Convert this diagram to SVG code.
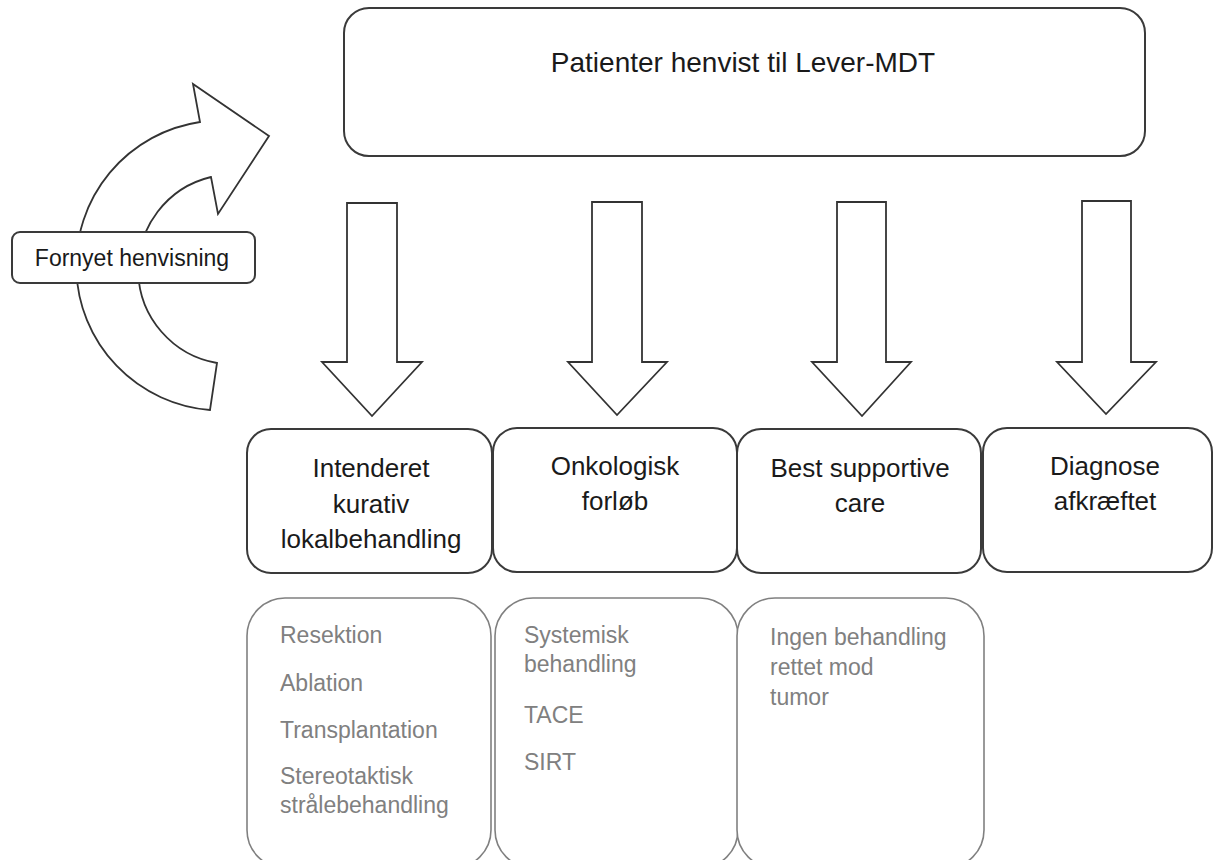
<svg xmlns="http://www.w3.org/2000/svg" width="1214" height="860" viewBox="0 0 1214 860">
<style>
.bg{fill:#fff}
.main{fill:#fff;stroke:#3a3a3a;stroke-width:2}
.sub{fill:#fff;stroke:#808080;stroke-width:1.6}
.arr{fill:#fff;stroke:#333;stroke-width:1.8;stroke-linejoin:miter}
.t{font-family:"Liberation Sans",Arial,sans-serif;fill:#1a1a1a;text-anchor:middle}
.g{font-family:"Liberation Sans",Arial,sans-serif;fill:#808080;font-size:23px}
</style>
<rect class="bg" x="0" y="0" width="1214" height="860"/>

<g id="loop-arrow">
<path class="arr" d="M200,122 A145,145 0 0 0 210,410 L217,363 A95,95 0 0 1 211,177 L218,214 L269,136 L193,84 Z"/>
</g>

<g id="fornyet">
<rect class="main" x="12" y="232" width="243" height="51" rx="8"/>
<text class="t" x="132" y="266" font-size="23">Fornyet henvisning</text>
</g>

<g id="top">
<rect class="main" x="344" y="8" width="801" height="148" rx="25"/>
<text class="t" x="743" y="72" font-size="28">Patienter henvist til Lever-MDT</text>
</g>

<g id="connectors">
<path class="arr" d="M347,203 H397 V362 H422 L372,416 L322,362 H347 Z"/>
<path class="arr" d="M592,202 H642 V362 H667 L617,415 L568,362 H592 Z"/>
<path class="arr" d="M837,202 H886 V362 H911 L862,416 L812,362 H837 Z"/>
<path class="arr" d="M1082,201 H1131 V362 H1156 L1106,414 L1057,362 H1082 Z"/>
</g>

<g id="box-kurativ">
<rect class="main" x="247" y="429" width="245" height="144" rx="24"/>
<text class="t" font-size="26"><tspan x="371" y="477">Intenderet</tspan><tspan x="371" y="513">kurativ</tspan><tspan x="371" y="548">lokalbehandling</tspan></text>
</g>
<g id="box-onkologisk">
<rect class="main" x="493" y="428" width="244" height="144" rx="24"/>
<text class="t" font-size="26"><tspan x="615" y="475">Onkologisk</tspan><tspan x="615" y="510">forløb</tspan></text>
</g>
<g id="box-bsc">
<rect class="main" x="737" y="429" width="244" height="144" rx="24"/>
<text class="t" font-size="26"><tspan x="860" y="477">Best supportive</tspan><tspan x="860" y="512">care</tspan></text>
</g>
<g id="box-diagnose">
<rect class="main" x="983" y="428" width="229" height="144" rx="24"/>
<text class="t" font-size="26"><tspan x="1105" y="475">Diagnose</tspan><tspan x="1105" y="510">afkræftet</tspan></text>
</g>

<g id="detail-kurativ">
<rect class="sub" x="247" y="598" width="244" height="270" rx="38"/>
<text class="g"><tspan x="280" y="643">Resektion</tspan><tspan x="280" y="691">Ablation</tspan><tspan x="280" y="738">Transplantation</tspan><tspan x="280" y="784">Stereotaktisk</tspan><tspan x="280" y="813">strålebehandling</tspan></text>
</g>
<g id="detail-onkologisk">
<rect class="sub" x="495" y="598" width="243" height="270" rx="38"/>
<text class="g"><tspan x="524" y="643">Systemisk</tspan><tspan x="524" y="672">behandling</tspan><tspan x="524" y="723">TACE</tspan><tspan x="524" y="770">SIRT</tspan></text>
</g>
<g id="detail-bsc">
<rect class="sub" x="737" y="598" width="247" height="270" rx="38"/>
<text class="g"><tspan x="770" y="645">Ingen behandling</tspan><tspan x="770" y="675">rettet mod</tspan><tspan x="770" y="705">tumor</tspan></text>
</g>
</svg>
